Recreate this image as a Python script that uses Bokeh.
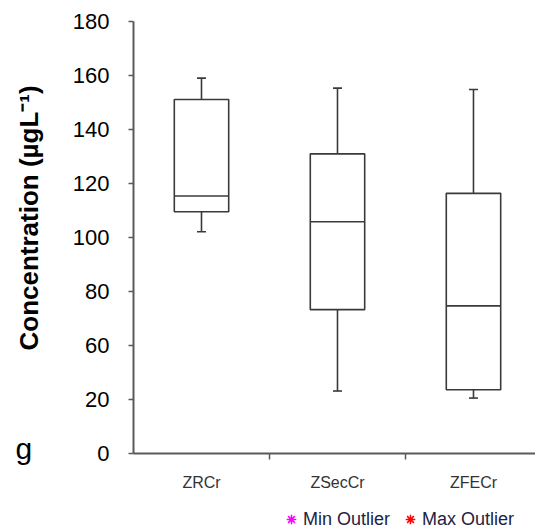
import math
from bokeh.plotting import figure
from bokeh.models import (FixedTicker, Label, Legend, LegendItem, ColumnDataSource, Range1d)
from bokeh.embed import file_html
from bokeh.resources import INLINE

# ---- data (values on the chart's own linear scale; the tick labels below are as printed) ----
categories = ["ZRCr", "ZSecCr", "ZFECr"]
positions = [1, 2, 3]
whisker_low = [82.1, 23.2, 20.6]
q1 = [89.5, 53.3, 23.7]
median = [95.3, 85.8, 54.7]
q3 = [131.0, 110.9, 96.3]
whisker_high = [138.9, 135.2, 134.7]
# no outliers are present in the chart
min_outliers_x = [float("nan")]
min_outliers_y = [float("nan")]
max_outliers_x = [float("nan")]
max_outliers_y = [float("nan")]

y_tick_values = [0, 20, 40, 60, 80, 100, 120, 140, 160]
y_tick_labels = ["0", "20", "60", "80", "100", "120", "140", "160", "180"]

FONT = "Liberation Sans"
BOX_W = 0.4
CAP_W = 0.066
LINE = "#3a3a3a"
AXIS = "#5a5a5a"

p = figure(width=535, height=529, output_backend="svg", toolbar_location=None,
           x_range=Range1d(-0.478, 3.456), y_range=Range1d(-28.0, 167.6),
           min_border_left=0, min_border_right=0, min_border_top=0, min_border_bottom=0)
p.outline_line_color = None
p.xgrid.visible = False
p.ygrid.visible = False
p.background_fill_color = "white"
p.border_fill_color = "white"

src = ColumnDataSource(dict(
    x=positions, lo=whisker_low, q1=q1, med=median, q3=q3, hi=whisker_high,
    xl=[v - BOX_W / 2 for v in positions], xr=[v + BOX_W / 2 for v in positions],
    cl=[v - CAP_W / 2 for v in positions], cr=[v + CAP_W / 2 for v in positions],
))

# whiskers
p.segment(x0="x", y0="q3", x1="x", y1="hi", source=src, line_color=LINE, line_width=1.6)
p.segment(x0="x", y0="lo", x1="x", y1="q1", source=src, line_color=LINE, line_width=1.6)
# caps
p.segment(x0="cl", y0="hi", x1="cr", y1="hi", source=src, line_color=LINE, line_width=1.6)
p.segment(x0="cl", y0="lo", x1="cr", y1="lo", source=src, line_color=LINE, line_width=1.6)
# boxes
p.vbar(x="x", width=BOX_W, bottom="q1", top="q3", source=src,
       fill_color="white", line_color=LINE, line_width=1.6)
# medians
p.segment(x0="xl", y0="med", x1="xr", y1="med", source=src, line_color=LINE, line_width=1.6)

# y axis (drawn inside the frame at the first category boundary)
yax = p.yaxis[0]
yax.fixed_location = 0.5
yax.bounds = (0, 160)
yax.ticker = FixedTicker(ticks=y_tick_values)
yax.major_label_overrides = {v: l for v, l in zip(y_tick_values, y_tick_labels)}
yax.major_label_text_font = FONT
yax.major_label_text_font_size = "22px"
yax.major_label_text_color = "black"
yax.major_tick_out = 5
yax.major_tick_in = 0
yax.minor_tick_out = 0
yax.minor_tick_in = 0
yax.major_label_standoff = 19
yax.axis_line_color = AXIS
yax.axis_line_width = 2
yax.major_tick_line_color = AXIS
yax.major_tick_line_width = 1.5

# x axis
xax = p.xaxis[0]
xax.fixed_location = 0
xax.bounds = (0.5, 3.456)
xax.ticker = FixedTicker(ticks=positions, minor_ticks=[1.5, 2.5])
xax.major_label_overrides = {v: c for v, c in zip(positions, categories)}
xax.major_label_text_font = FONT
xax.major_label_text_font_size = "16px"
xax.major_label_text_color = "#333333"
xax.major_tick_out = 0
xax.major_tick_in = 0
xax.minor_tick_out = 6
xax.minor_tick_in = 0
xax.minor_tick_line_color = AXIS
xax.minor_tick_line_width = 1.5
xax.major_label_standoff = 14
xax.axis_line_color = AXIS
xax.axis_line_width = 2

# y axis title
p.add_layout(Label(x=-0.272, y=87.2, text="Concentration (µgL⁻¹)", angle=math.pi / 2,
                   text_align="center", text_baseline="alphabetic",
                   text_font=FONT, text_font_size="26px", text_font_style="bold",
                   text_color="black"))
# panel letter
p.add_layout(Label(x=-0.3676, y=2.0, text="g", text_align="left", text_baseline="alphabetic",
                   text_font=FONT, text_font_size="30px", text_color="black"))

# legend (outlier markers)
r_min = p.scatter(x=min_outliers_x, y=min_outliers_y, marker="asterisk", size=10,
                  line_color="#ff00ff", line_width=1.5)
r_max = p.scatter(x=max_outliers_x, y=max_outliers_y, marker="asterisk", size=10,
                  line_color="#ff0000", line_width=1.5)
legend = Legend(items=[LegendItem(label="Min Outlier", renderers=[r_min]),
                       LegendItem(label="Max Outlier", renderers=[r_max])],
                orientation="horizontal", location=(279, -2),
                label_text_font=FONT, label_text_font_size="18px", label_text_color="#222244",
                glyph_width=24, glyph_height=24, label_height=24, label_standoff=0,
                spacing=8, padding=0, margin=0,
                border_line_color=None, background_fill_alpha=0)
p.add_layout(legend, "center")

open("out.html", "w").write(file_html(p, INLINE))
